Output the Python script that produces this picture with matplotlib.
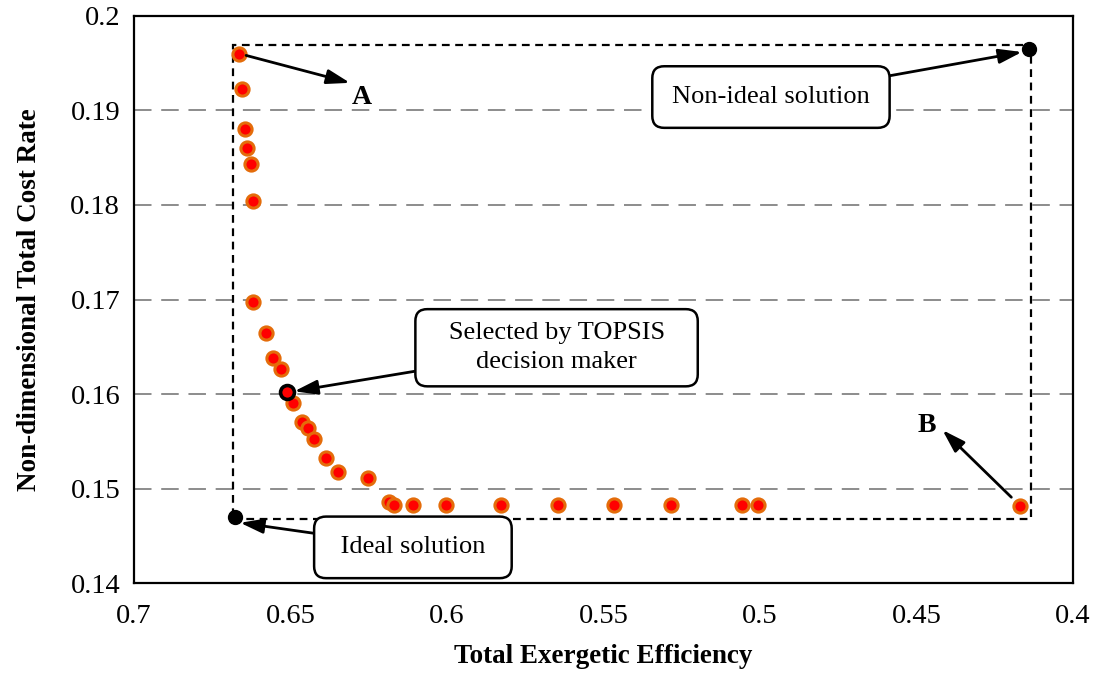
import numpy as np
import matplotlib.pyplot as plt
from matplotlib.patches import Rectangle

plt.rcParams['font.family'] = ['Liberation Serif', 'DejaVu Serif']

# pareto front points
efficiency = [0.6664, 0.6656, 0.6645, 0.6639, 0.6627, 0.6620, 0.6620, 0.6578,
              0.6555, 0.6530, 0.6491, 0.6464, 0.6443, 0.6424, 0.6387, 0.6349,
              0.6253, 0.6185, 0.6169, 0.6108, 0.6003, 0.5828, 0.5647, 0.5466,
              0.5285, 0.5058, 0.5005, 0.4169]
cost_rate = [0.1960, 0.1923, 0.1880, 0.1860, 0.1843, 0.1804, 0.1697, 0.1665,
             0.1638, 0.1627, 0.1591, 0.1571, 0.1564, 0.1553, 0.1532, 0.1518,
             0.1511, 0.1486, 0.1483, 0.1483, 0.1483, 0.1483, 0.1483, 0.1483,
             0.1483, 0.1483, 0.1483, 0.1482]

selected = (0.6510, 0.1602)
ideal = (0.6677, 0.1470)
non_ideal = (0.4140, 0.19645)

fig = plt.figure(figsize=(10.96, 6.76), dpi=100)
ax = fig.add_axes([0.1223, 0.1371, 0.8567, 0.8397])

ax.set_xlim(0.7, 0.4)
ax.set_ylim(0.14, 0.2)
ax.set_xticks([0.7, 0.65, 0.6, 0.55, 0.5, 0.45, 0.4])
ax.set_xticklabels(['0.7', '0.65', '0.6', '0.55', '0.5', '0.45', '0.4'])
ax.set_yticks([0.14, 0.15, 0.16, 0.17, 0.18, 0.19, 0.2])
ax.set_yticklabels(['0.14', '0.15', '0.16', '0.17', '0.18', '0.19', '0.2'])
ax.tick_params(length=0, labelsize=20.5)
ax.tick_params(axis='x', pad=15)
ax.tick_params(axis='y', pad=10)
ax.yaxis.grid(True, color='#8c8c8c', linestyle=(0, (9, 5)), linewidth=1.4)
ax.set_axisbelow(True)
for s in ax.spines.values():
    s.set_linewidth(1.6)

# dashed box between ideal and non-ideal solutions
ax.add_patch(Rectangle((0.6685, 0.1468), 0.4135 - 0.6685, 0.1969 - 0.1468,
                       fill=False, edgecolor='black', linestyle=(0, (3.5, 2.5)),
                       linewidth=1.6, zorder=2))

ax.plot(efficiency, cost_rate, 'o', color='red', markeredgecolor='#E46C0A',
        markersize=9.5, markeredgewidth=2.2, zorder=3)
ax.plot(*selected, 'o', color='red', markeredgecolor='black',
        markersize=10, markeredgewidth=2.6, zorder=4)
ax.plot(*ideal, 'o', color='black', markersize=10, zorder=4)
ax.plot(*non_ideal, 'o', color='black', markersize=10, zorder=4)

arrow = dict(arrowstyle='-|>,head_length=0.7,head_width=0.22', color='black',
             lw=2, mutation_scale=20, shrinkA=0, shrinkB=0)


def box(pad):
    return dict(boxstyle='round,pad=%s,rounding_size=0.45' % pad, fc='white',
                ec='black', lw=1.8)


ax.annotate('', xy=(0.6310, 0.1929), xytext=(0.6642, 0.1958), arrowprops=arrow)
ax.text(0.6271, 0.1913, 'A', fontsize=20, fontweight='bold', ha='center', va='center')

ax.annotate('', xy=(0.4417, 0.1562), xytext=(0.4197, 0.1491), arrowprops=arrow)
ax.text(0.4468, 0.1567, 'B', fontsize=20, fontweight='bold', ha='center', va='center')

ax.annotate('Non-ideal solution', xy=(0.4163, 0.19616), xytext=(0.4965, 0.1914),
            fontsize=19, ha='center', va='center', bbox=box(0.75),
            arrowprops=arrow)
ax.annotate('   Selected by TOPSIS   \ndecision maker', xy=(0.6488, 0.1603),
            xytext=(0.5650, 0.1649), fontsize=19, ha='center', va='center',
            multialignment='center', bbox=box(0.5), linespacing=1.4,
            arrowprops=arrow)
ax.annotate(' Ideal solution ', xy=(0.6661, 0.1464), xytext=(0.6109, 0.1438),
            fontsize=19, ha='center', va='center', bbox=box(0.75),
            arrowprops=arrow)

ax.set_xlabel('Total Exergetic Efficiency', fontsize=19.5, fontweight='bold', labelpad=11)
ax.set_ylabel('Non-dimensional Total Cost Rate', fontsize=19.5, fontweight='bold', labelpad=20)

fig.savefig('out.png', dpi=100)
